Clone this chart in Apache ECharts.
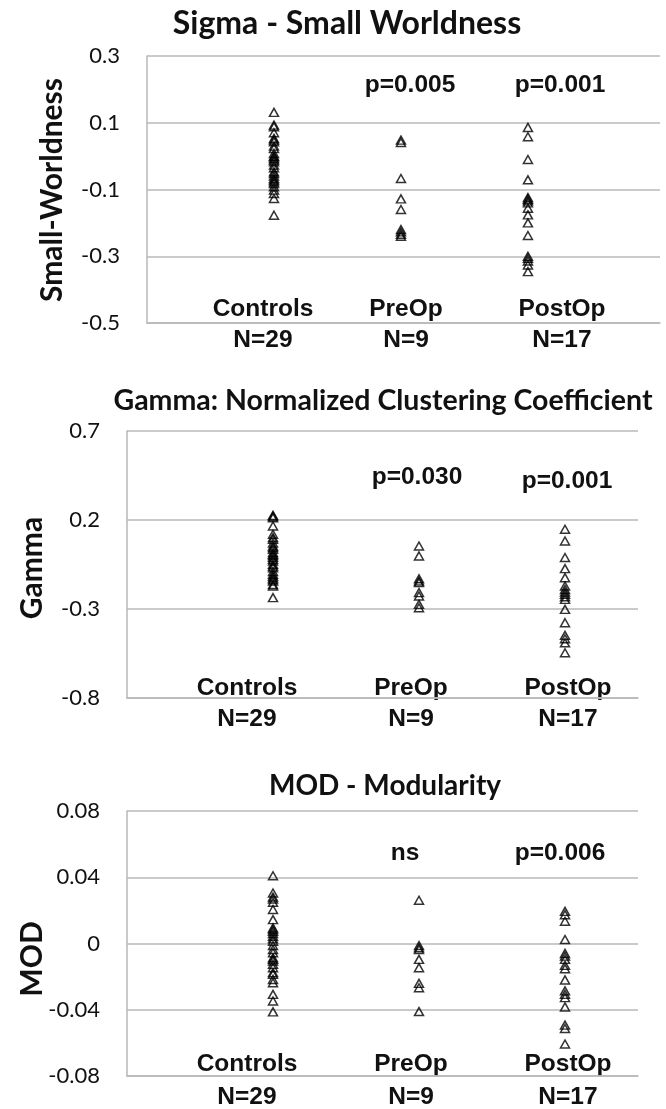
<!DOCTYPE html>
<html>
<head>
<meta charset="utf-8">
<script src="https://cdn.jsdelivr.net/npm/echarts@6/dist/echarts.min.js"></script>
<style>
  html, body { margin: 0; padding: 0; background: #fff; }
  #chart { width: 666px; height: 1109px; }
</style>
</head>
<body>
<div id="chart"></div>
<script>
// groups, shared by all three panels
const groups = ['Controls', 'PreOp', 'PostOp'];
const groupN = ['N=29', 'N=9', 'N=17'];
const groupX = [1, 2, 3];

// Sigma - small worldness
const sigmaControls = [0.131, 0.093, 0.088, 0.07, 0.053, 0.048, 0.043, 0.03, 0.023, 0.008, 0.0, -0.002, -0.007, -0.012, -0.017, -0.027, -0.035, -0.047, -0.052, -0.06, -0.067, -0.072, -0.077, -0.082, -0.092, -0.102, -0.112, -0.127, -0.177];
const sigmaPreOp = [0.048, 0.041, -0.067, -0.128, -0.16, -0.22, -0.227, -0.234, -0.24];
const sigmaPostOp = [0.086, 0.058, -0.01, -0.071, -0.124, -0.129, -0.134, -0.14, -0.156, -0.176, -0.2, -0.238, -0.3, -0.306, -0.314, -0.326, -0.346];
const sigmaP = ['', 'p=0.005', 'p=0.001'];
const sigmaTicks = [-0.5, 0.3, 0.2]; // min, max, step

// Gamma - normalized clustering coefficient
const gammaControls = [0.226, 0.22, 0.213, 0.166, 0.12, 0.101, 0.091, 0.07, 0.054, 0.045, 0.035, 0.017, 0.007, 0.0, -0.01, -0.021, -0.03, -0.049, -0.059, -0.068, -0.09, -0.105, -0.115, -0.124, -0.134, -0.143, -0.162, -0.171, -0.236];
const gammaPreOp = [0.054, -0.002, -0.13, -0.143, -0.152, -0.208, -0.227, -0.274, -0.293];
const gammaPostOp = [0.148, 0.082, -0.011, -0.073, -0.124, -0.171, -0.19, -0.205, -0.218, -0.231, -0.246, -0.302, -0.377, -0.448, -0.467, -0.49, -0.546];
const gammaP = ['', 'p=0.030', 'p=0.001'];
const gammaTicks = [-0.8, 0.7, 0.5];

// MOD - modularity
const modControls = [0.0409, 0.0305, 0.0281, 0.0269, 0.0249, 0.0205, 0.0144, 0.0094, 0.0084, 0.0074, 0.006, 0.0044, 0.0028, 0.0014, -0.0012, -0.0036, -0.0056, -0.0086, -0.0096, -0.0106, -0.0126, -0.0146, -0.0176, -0.0186, -0.0217, -0.0237, -0.0307, -0.0347, -0.0413];
const modPreOp = [0.0261, -0.0012, -0.0026, -0.0036, -0.0096, -0.0146, -0.0241, -0.0267, -0.0411];
const modPostOp = [0.0194, 0.0174, 0.0134, 0.0024, -0.006, -0.0076, -0.0096, -0.0132, -0.0152, -0.022, -0.0286, -0.0307, -0.0327, -0.0383, -0.0493, -0.0513, -0.0607];
const modP = ['', 'ns', 'p=0.006'];
const modTicks = [-0.08, 0.08, 0.04];

// layout of each panel (pixels)
const panels = [
  {
    title: 'Sigma - Small Worldness', yName: 'Small-Worldness',
    data: [sigmaControls, sigmaPreOp, sigmaPostOp], p: sigmaP, ticks: sigmaTicks,
    grid: { left: 147, top: 56, width: 513, height: 267 }, xMax: 4.04,
    titleXY: [347, 24], titleSize: 32, yNameXY: [52, 190],
    pX: [0, 410, 560], pY: [0, 85, 85],
    labX: [263, 406, 562], labY: 309, nY: 340
  },
  {
    title: 'Gamma: Normalized Clustering Coefficient', yName: 'Gamma',
    data: [gammaControls, gammaPreOp, gammaPostOp], p: gammaP, ticks: gammaTicks,
    grid: { left: 127, top: 431, width: 511, height: 267 }, xMax: 3.5,
    titleXY: [383, 401], titleSize: 28.5, yNameXY: [32, 568],
    pX: [0, 417, 567], pY: [0, 477, 481],
    labX: [247, 411, 568], labY: 688, nY: 719
  },
  {
    title: 'MOD - Modularity', yName: 'MOD',
    data: [modControls, modPreOp, modPostOp], p: modP, ticks: modTicks,
    grid: { left: 127, top: 811, width: 511, height: 265 }, xMax: 3.5,
    titleXY: [385, 786], titleSize: 28, yNameXY: [32, 959],
    pX: [0, 405, 560], pY: [0, 853, 853],
    labX: [247, 411, 568], labY: 1064, nY: 1097
  }
];

const gridColor = '#b8b8b8';
const boldSans = 'Liberation Sans';

let grids = [], xAxes = [], yAxes = [], series = [], graphics = [];

panels.forEach(function (pn, i) {
  grids.push(pn.grid);
  xAxes.push({
    gridIndex: i, type: 'value', min: 0, max: pn.xMax,
    axisLine: { show: true, onZero: false, lineStyle: { color: gridColor, width: 1.5 } },
    axisTick: { show: false }, axisLabel: { show: false }, splitLine: { show: false }
  });
  yAxes.push({
    gridIndex: i, type: 'value', min: pn.ticks[0], max: pn.ticks[1], interval: pn.ticks[2],
    axisLine: { show: true, lineStyle: { color: gridColor, width: 1.5 } },
    axisTick: { show: false },
    axisLabel: {
      margin: 27, color: '#111', fontFamily: 'Lato', fontSize: 22,
      formatter: function (v) { return String(parseFloat(v.toFixed(2))); }
    },
    splitLine: { show: true, lineStyle: { color: gridColor, width: 1.5 } }
  });
  pn.data.forEach(function (vals, g) {
    series.push({
      type: 'scatter', xAxisIndex: i, yAxisIndex: i,
      symbol: 'triangle', symbolSize: [9, 8],
      itemStyle: { color: 'rgba(0,0,0,0)', borderColor: '#000', borderWidth: 1.5 },
      data: vals.map(function (v) { return [groupX[g], v]; })
    });
  });

  // titles and annotations
  graphics.push({
    type: 'text', x: pn.titleXY[0], y: pn.titleXY[1],
    style: { text: pn.title, align: 'center', verticalAlign: 'middle',
      font: 'bold ' + pn.titleSize + 'px Lato', fill: '#111' }
  });
  graphics.push({
    type: 'text', x: pn.yNameXY[0], y: pn.yNameXY[1], rotation: Math.PI / 2,
    style: { text: pn.yName, align: 'center', verticalAlign: 'middle',
      font: 'bold 30px Lato', fill: '#111' }
  });
  groups.forEach(function (name, g) {
    graphics.push({
      type: 'text', x: pn.labX[g], y: pn.labY,
      style: { text: name, align: 'center', verticalAlign: 'middle',
        font: 'bold 24.5px "' + boldSans + '"', fill: '#111' }
    });
    graphics.push({
      type: 'text', x: pn.labX[g], y: pn.nY,
      style: { text: groupN[g], align: 'center', verticalAlign: 'middle',
        font: 'bold 24.5px "' + boldSans + '"', fill: '#111' }
    });
    if (pn.p[g]) {
      graphics.push({
        type: 'text', x: pn.pX[g], y: pn.pY[g],
        style: { text: pn.p[g], align: 'center', verticalAlign: 'middle',
          font: 'bold 24.5px "' + boldSans + '"', fill: '#111' }
      });
    }
  });
});

const chart = echarts.init(document.getElementById('chart'), null, { renderer: 'canvas' });
chart.setOption({
  animation: false,
  backgroundColor: '#fff',
  grid: grids,
  xAxis: xAxes,
  yAxis: yAxes,
  series: series,
  graphic: graphics
});
</script>
</body>
</html>
